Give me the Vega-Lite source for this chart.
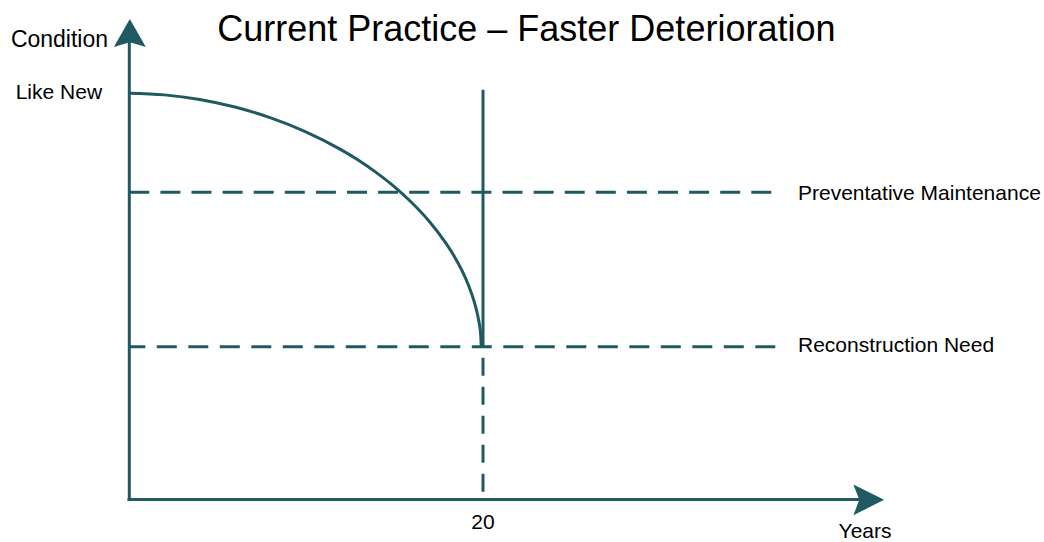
{
  "$schema": "https://vega.github.io/schema/vega-lite/v6.json",
  "width": 1044,
  "height": 542,
  "autosize": {"type": "fit", "contains": "padding"},
  "padding": 0,
  "background": "white",
  "config": {"view": {"stroke": null}},
  "datasets": {
    "axes": [
      {"name": "Condition", "year": 0, "cond": -0.4, "year_end": 0, "cond_end": 113.2},
      {"name": "Years", "year": -0.1, "cond": 0, "year_end": 41.3, "cond_end": 0}
    ],
    "curve": [
      {"year": 0, "cond": 100},
      {"year": 1.99, "cond": 99.58},
      {"year": 3.98, "cond": 98.44},
      {"year": 5.97, "cond": 96.58},
      {"year": 7.96, "cond": 93.98},
      {"year": 9.95, "cond": 90.55},
      {"year": 11.94, "cond": 86.17},
      {"year": 12.94, "cond": 83.54},
      {"year": 13.93, "cond": 80.57},
      {"year": 14.93, "cond": 77.18},
      {"year": 15.92, "cond": 73.27},
      {"year": 16.92, "cond": 68.66},
      {"year": 17.91, "cond": 63.01},
      {"year": 18.41, "cond": 59.58},
      {"year": 18.91, "cond": 55.47},
      {"year": 19.2, "cond": 52.46},
      {"year": 19.5, "cond": 48.71},
      {"year": 19.7, "cond": 45.33},
      {"year": 19.8, "cond": 42.97},
      {"year": 19.87, "cond": 40.45},
      {"year": 19.9, "cond": 37.6}
    ]
  },
  "encoding": {
    "x": {"field": "year", "type": "quantitative", "scale": {"domain": [-7.311, 51.72], "nice": false, "zero": false}, "axis": null},
    "y": {"field": "cond", "type": "quantitative", "scale": {"domain": [-9.98, 122.93], "nice": false, "zero": false}, "axis": null}
  },
  "layer": [
    {
      "data": {"values": [
        {"level": "Preventative Maintenance", "year": 0, "cond": 75.6, "year_end": 36.3}
      ]},
      "mark": {"type": "rule", "color": "#1f5a63", "strokeWidth": 3, "strokeDash": [20, 11.1]},
      "encoding": {"x2": {"field": "year_end"}}
    },
    {
      "data": {"values": [
        {"level": "Reconstruction Need", "year": 0, "cond": 37.6, "year_end": 36.7}
      ]},
      "mark": {"type": "rule", "color": "#1f5a63", "strokeWidth": 3, "strokeDash": [20, 11.5], "strokeDashOffset": 4},
      "encoding": {"x2": {"field": "year_end"}}
    },
    {
      "data": {"values": [{"year": 20, "cond": 37.6, "cond_end": 0}]},
      "mark": {"type": "rule", "color": "#1f5a63", "strokeWidth": 3, "strokeDash": [18, 11], "strokeDashOffset": 18},
      "encoding": {"y2": {"field": "cond_end"}}
    },
    {
      "data": {"values": [{"year": 20, "cond": 37.3, "cond_end": 100.86}]},
      "mark": {"type": "rule", "color": "#1f5a63", "strokeWidth": 3},
      "encoding": {"y2": {"field": "cond_end"}}
    },
    {
      "data": {"name": "curve"},
      "mark": {"type": "line", "color": "#1f5a63", "strokeWidth": 3, "interpolate": "monotone"},
      "encoding": {"order": {"field": "year"}}
    },
    {
      "data": {"name": "axes"},
      "mark": {"type": "rule", "color": "#1f5a63", "strokeWidth": 3},
      "encoding": {"x2": {"field": "year_end"}, "y2": {"field": "cond_end"}}
    },
    {
      "data": {"values": [{"axis": "Condition", "year": 0.03, "cond": 114.8}]},
      "mark": {"type": "point", "filled": true, "opacity": 1, "color": "#1f5a63", "size": 1024, "strokeWidth": 0, "shape": "M0,-0.875L1,0.875L0,0.58L-1,0.875Z"},
      "encoding": {}
    },
    {
      "data": {"values": [{"axis": "Years", "year": 41.81, "cond": -0.1}]},
      "mark": {"type": "point", "filled": true, "opacity": 1, "color": "#1f5a63", "size": 1024, "strokeWidth": 0, "shape": "M0.96,0L-0.96,-0.96L-0.59,0L-0.96,0.96Z"},
      "encoding": {}
    },
    {
      "data": {"values": [{"label": "Current Practice – Faster Deterioration", "year": 22.45, "cond": 115.6}]},
      "mark": {"type": "text", "font": "Liberation Sans", "fontSize": 36, "align": "center", "baseline": "middle", "color": "#000000"},
      "encoding": {"text": {"field": "label"}}
    },
    {
      "data": {"values": [{"label": "Condition", "year": -1.2, "cond": 113.2}]},
      "mark": {"type": "text", "font": "Liberation Sans", "fontSize": 23, "align": "right", "baseline": "middle", "color": "#000000"},
      "encoding": {"text": {"field": "label"}}
    },
    {
      "data": {"values": [{"label": "Like New", "year": -1.54, "cond": 100}]},
      "mark": {"type": "text", "font": "Liberation Sans", "fontSize": 21, "align": "right", "baseline": "middle", "color": "#000000"},
      "encoding": {"text": {"field": "label"}}
    },
    {
      "data": {"values": [
        {"label": "Preventative Maintenance", "year": 37.81, "cond": 75.2},
        {"label": "Reconstruction Need", "year": 37.81, "cond": 37.7}
      ]},
      "mark": {"type": "text", "font": "Liberation Sans", "fontSize": 21, "align": "left", "baseline": "middle", "color": "#000000"},
      "encoding": {"text": {"field": "label"}}
    },
    {
      "data": {"values": [
        {"label": "20", "year": 20, "cond": -5.81},
        {"label": "Years", "year": 41.6, "cond": -7.9}
      ]},
      "mark": {"type": "text", "font": "Liberation Sans", "fontSize": 21, "align": "center", "baseline": "middle", "color": "#000000"},
      "encoding": {"text": {"field": "label"}}
    }
  ]
}
